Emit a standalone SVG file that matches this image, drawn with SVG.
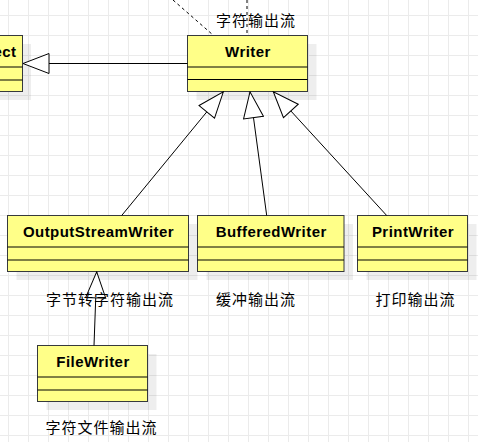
<svg xmlns="http://www.w3.org/2000/svg" width="478" height="442" viewBox="0 0 478 442">
  <style>
    .shadow { fill: #000000; fill-opacity: 0.065; stroke: none; }
    .box { fill: #ffff88; stroke: #36393d; stroke-width: 1; }
    .div { stroke: #000000; stroke-width: 1; fill: none; }
    .name { font-family: "Liberation Sans", Arial, sans-serif; font-size: 15px; font-weight: bold; fill: #000000; letter-spacing: 0.45px; text-anchor: middle; }
    .label { font-family: "Liberation Sans", "Noto Sans CJK SC", sans-serif; font-size: 15px; fill: #000000; letter-spacing: 1px; text-anchor: middle; }
    .edge { stroke: #000000; stroke-width: 1; fill: none; }
    .inherit { marker-end: url(#hollow); }
    .dash { stroke-dasharray: 3 3; }
  </style>
  <defs>
    <pattern id="grid" patternUnits="userSpaceOnUse" x="8" y="15" width="20" height="20">
      <path d="M0.5 0 V20 M0 0.5 H20" stroke="#ebebeb" stroke-width="1" fill="none"/>
    </pattern>
    <marker id="hollow" markerUnits="userSpaceOnUse" viewBox="-1 -11 28 22" markerWidth="28" markerHeight="22" refX="26" refY="0" orient="auto">
      <path d="M0,-10 L26,0 L0,10 Z" fill="#ffffff" stroke="#000000" stroke-width="1"/>
    </marker>
  </defs>
  <rect x="0" y="0" width="478" height="442" fill="#ffffff"/>
  <rect x="0" y="0" width="478" height="442" fill="url(#grid)"/>

  <g id="node-object">
    <rect class="shadow" x="-51" y="44" width="82" height="56"/>
    <rect class="box" x="-59.5" y="35.5" width="82" height="56"/>
    <line class="div" x1="-59.5" y1="67" x2="22.5" y2="67"/>
    <line class="div" x1="-59.5" y1="80" x2="22.5" y2="80"/>
    <text class="name" x="16.5" y="56.5" style="text-anchor:end">Object</text>
  </g>

  <g id="node-writer">
    <rect class="shadow" x="196.5" y="44" width="120" height="56"/>
    <rect class="box" x="187.5" y="35.5" width="120" height="56"/>
    <line class="div" x1="187.5" y1="67" x2="307.5" y2="67"/>
    <line class="div" x1="187.5" y1="79.5" x2="307.5" y2="79.5"/>
    <text class="name" x="248" y="56.5">Writer</text>
  </g>

  <g id="node-outputstreamwriter">
    <rect class="shadow" x="16.5" y="224" width="181" height="56"/>
    <rect class="box" x="7.5" y="215.5" width="181" height="56"/>
    <line class="div" x1="7.5" y1="247" x2="188.5" y2="247"/>
    <line class="div" x1="7.5" y1="260" x2="188.5" y2="260"/>
    <text class="name" x="98.5" y="236.5">OutputStreamWriter</text>
  </g>

  <g id="node-bufferedwriter">
    <rect class="shadow" x="206.5" y="224" width="146.5" height="56"/>
    <rect class="box" x="197.5" y="215.5" width="146.5" height="56"/>
    <line class="div" x1="197.5" y1="247" x2="344" y2="247"/>
    <line class="div" x1="197.5" y1="260" x2="344" y2="260"/>
    <text class="name" x="271.2" y="236.5">BufferedWriter</text>
  </g>

  <g id="node-printwriter">
    <rect class="shadow" x="366.5" y="224" width="110" height="56"/>
    <rect class="box" x="357.5" y="215.5" width="110" height="56"/>
    <line class="div" x1="357.5" y1="247" x2="467.5" y2="247"/>
    <line class="div" x1="357.5" y1="260" x2="467.5" y2="260"/>
    <text class="name" x="413" y="236.5">PrintWriter</text>
  </g>

  <g id="node-filewriter">
    <rect class="shadow" x="46.5" y="354" width="110" height="56"/>
    <rect class="box" x="37.5" y="345.5" width="110" height="56"/>
    <line class="div" x1="37.5" y1="377" x2="147.5" y2="377"/>
    <line class="div" x1="37.5" y1="390" x2="147.5" y2="390"/>
    <text class="name" x="93" y="366.5">FileWriter</text>
  </g>

  <g id="connectors">
    <line class="edge dash" x1="173" y1="0" x2="213" y2="35"/>
    <line class="edge dash" x1="247" y1="0" x2="247" y2="35"/>
    <path class="edge inherit" d="M187.5,63.5 L23,63.5"/>
    <path class="edge inherit" d="M121.7,215.5 L223.3,91.8"/>
    <path class="edge inherit" d="M266.7,215.5 L250,91.8"/>
    <path class="edge inherit" d="M386.7,215.5 L273.3,91.8"/>
    <path class="edge inherit" d="M94,345.5 L96.7,271.8"/>
  </g>

  <g id="labels">
    <text class="label" x="256" y="25.5">字符输出流</text>
    <text class="label" x="110" y="304.5">字节转字符输出流</text>
    <text class="label" x="256" y="304.5">缓冲输出流</text>
    <text class="label" x="415.5" y="304.5">打印输出流</text>
    <text class="label" x="101.5" y="432.5">字符文件输出流</text>
  </g>
</svg>
